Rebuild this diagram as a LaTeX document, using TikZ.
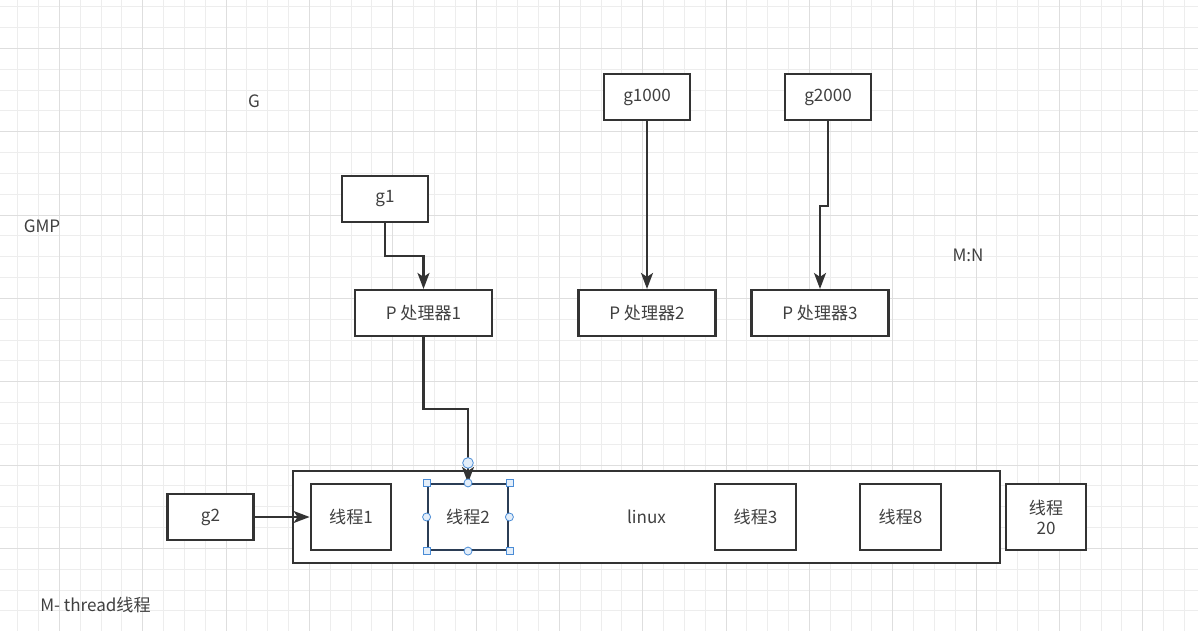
\documentclass[tikz,border=0pt]{standalone}
\usepackage{fontspec}
\setmainfont{Noto Sans CJK SC}
\usetikzlibrary{arrows.meta}

\definecolor{linegray}{HTML}{333333}
\definecolor{textgray}{HTML}{404040}
\definecolor{gridfine}{HTML}{EDEDED}
\definecolor{gridmajor}{HTML}{DEDEDE}
\definecolor{selblue}{HTML}{4A8CD6}
\definecolor{selfill}{HTML}{E3EEFA}
\definecolor{selline}{HTML}{2B3D55}

\begin{document}
\begin{tikzpicture}[x=0.75pt, y=-0.75pt,
    box/.style={draw=linegray, line width=1.6pt, fill=white, text=textgray,
      font=\fontsize{12.8}{15}\selectfont, inner sep=0pt, minimum height=34.5pt},
    gbox/.style={box, minimum width=64.5pt},
    pbox/.style={box, minimum width=102.75pt},
    tbox/.style={box, minimum width=60.5pt, minimum height=49.5pt, align=center},
    arr/.style={draw=linegray, line width=1.6pt, -{Stealth[length=12pt,width=9pt,inset=3pt]}},
    lab/.style={text=textgray, font=\fontsize{12.8}{15}\selectfont, inner sep=0pt},
    handle/.style={draw=selblue, fill=selfill, line width=0.6pt}]
    \useasboundingbox (0,0) rectangle (1198,631);
    \fill[white] (0,0) rectangle (1198,631);
    % grid
    \foreach \k in {0,...,57}
        \draw[gridfine, line width=0.75pt] ({round(17.3+20.833*\k)+0.5},0) -- ++(0,631);
    \foreach \k in {0,...,30}
        \draw[gridfine, line width=0.75pt] (0,{round(6.3+20.833*\k)+0.5}) -- ++(1198,0);
    \foreach \k in {0,...,13}
        \draw[gridmajor, line width=0.75pt] ({round(59+83.333*\k)+0.5},0) -- ++(0,631);
    \foreach \k in {0,...,7}
        \draw[gridmajor, line width=0.75pt] (0,{round(48+83.333*\k)+0.5}) -- ++(1198,0);

    % labels
    \node[lab] (labG) at (254,101) {G};
    \node[lab] (labGMP) at (42,226) {GMP};
    \node[lab] (labMN) at (968,255) {M:N};
    \node[lab, anchor=west] (labM) at (40,605) {M- thread线程};

    % goroutines and processors
    \node[gbox] (g1) at (385,199) {g1};
    \node[gbox] (g1000) at (647,97) {g1000};
    \node[gbox] (g2000) at (828,97) {g2000};
    \node[pbox] (P1) at (423.5,313) {P 处理器1};
    \node[pbox] (P2) at (647,313) {P 处理器2};
    \node[pbox] (P3) at (820,313) {P 处理器3};

    % threads
    \node[box, minimum width=530.25pt, minimum height=69pt] (linux) at (646.5,517) {linux};
    \node[tbox] (T1) at (351,517) {线程1};
    \node[tbox, draw=selline] (T2) at (468,517) {线程2};
    \node[tbox] (T3) at (755.5,517) {线程3};
    \node[tbox] (T8) at (900.5,517) {线程8};
    \node[tbox] (T20) at (1046,517) {线程\\20};
    \node[gbox] (g2) at (210.5,517) {g2};

    \draw[arr] (g1.south) -- ++(0,33) -| (P1.north);
    \draw[arr] (g1000.south) -- (P2.north);
    \draw[arr] (g2000.south) -- ++(0,85) -| (P3.north);
    \draw[arr] (P1.south) -- ++(0,72) -| (T2.north);
    \draw[arr] (g2.east) -- (T1.west);

    % selection handles
    \foreach \a in {north west, north east, south west, south east}
        \draw[handle] ([shift={(-3.5,-3.5)}]T2.\a) rectangle ++(7,7);
    \foreach \a in {north, south, east, west}
        \draw[handle] (T2.\a) circle[radius=3pt];
    \draw[handle] ([yshift=15pt]T2.north) circle[radius=4pt];
\end{tikzpicture}
\end{document}
